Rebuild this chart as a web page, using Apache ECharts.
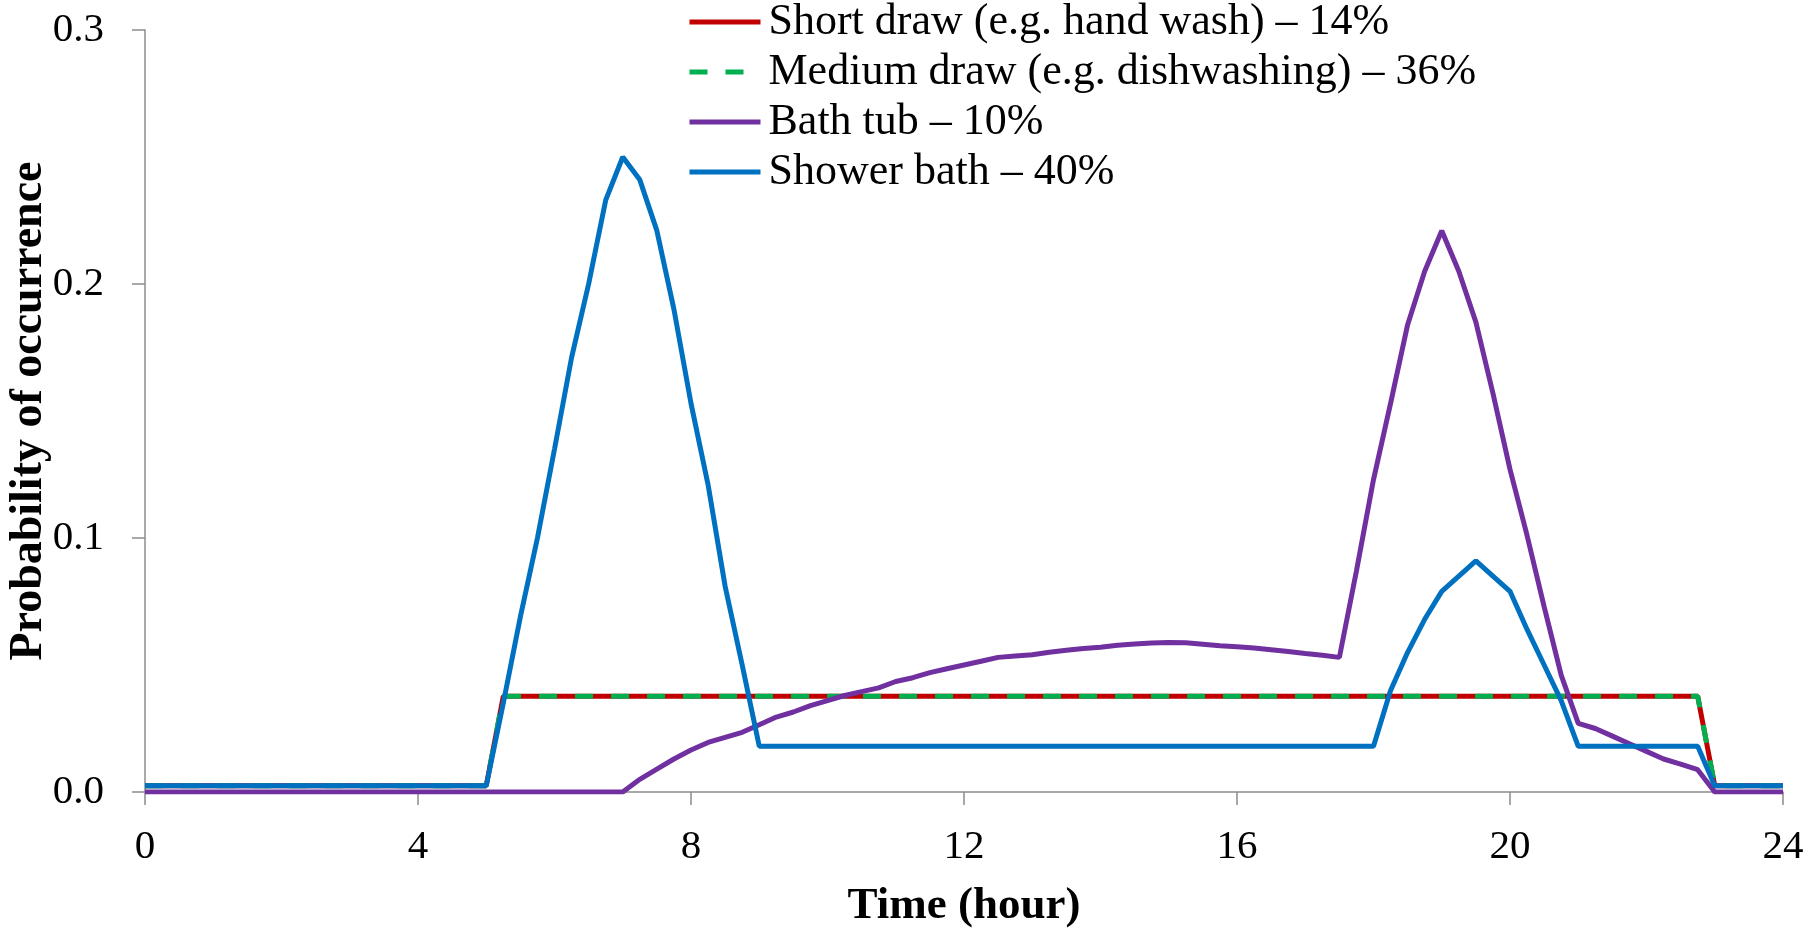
<!DOCTYPE html>
<html>
<head>
    <meta charset="utf-8">
    <title>draw-off profiles</title>
    <script src="https://cdn.jsdelivr.net/npm/echarts@6/dist/echarts.min.js"></script>
    <style>
        html, body { margin: 0; padding: 0; background: #fff; }
        #main { width: 1810px; height: 928px; }
    </style>
</head>
<body>
<div id="main"></div>
<script type="text/javascript">
    // [hour, probability], 15-min steps where the curve bends
    var seriesNames = [
        'Short draw (e.g. hand wash) – 14%',
        'Medium draw (e.g. dishwashing) – 36%',
        'Bath tub – 10%',
        'Shower bath – 40%'
    ];
    var xTicks = [0, 4, 8, 12, 16, 20, 24];
    var yTicks = [0.0, 0.1, 0.2, 0.3];

    var shortDraw = [[0, 0.0025], [5, 0.0025], [5.25, 0.0377], [22.75, 0.0377], [23, 0.0025], [24, 0.0025]];
    var mediumDraw = [[0, 0.0025], [5, 0.0025], [5.25, 0.0377], [22.75, 0.0377], [23, 0.0025], [24, 0.0025]];

    var bathTub = [
        [0, 0], [7, 0], [7.25, 0.005], [7.5, 0.009], [7.75, 0.013], [8, 0.0165], [8.25, 0.0195],
        [8.5, 0.0215], [8.75, 0.0235], [9, 0.0265], [9.25, 0.0295], [9.5, 0.0315], [9.75, 0.034],
        [10, 0.036], [10.25, 0.038], [10.5, 0.0395], [10.75, 0.041], [11, 0.0435], [11.25, 0.045],
        [11.5, 0.047], [11.75, 0.0485], [12, 0.05], [12.25, 0.0515], [12.5, 0.053], [12.75, 0.0535],
        [13, 0.054], [13.25, 0.055], [13.5, 0.0558], [13.75, 0.0565], [14, 0.057], [14.25, 0.0578],
        [14.5, 0.0583], [14.75, 0.0587], [15, 0.0589], [15.25, 0.0588], [15.5, 0.0582], [15.75, 0.0576],
        [16, 0.0572], [16.25, 0.0567], [16.5, 0.056], [16.75, 0.0553], [17, 0.0545], [17.25, 0.0538],
        [17.5, 0.053], [17.75, 0.087], [18, 0.123], [18.25, 0.153], [18.5, 0.184], [18.75, 0.205],
        [19, 0.221], [19.25, 0.205], [19.5, 0.185], [19.75, 0.157], [20, 0.127], [20.25, 0.101],
        [20.5, 0.073], [20.75, 0.046], [21, 0.027], [21.25, 0.025], [21.5, 0.022], [21.75, 0.019],
        [22, 0.016], [22.25, 0.013], [22.5, 0.011], [22.75, 0.0088], [23, 0], [24, 0]
    ];

    var showerBath = [
        [0, 0.0025], [5, 0.0025], [5.25, 0.035], [5.5, 0.069], [5.75, 0.1], [6, 0.135], [6.25, 0.171],
        [6.5, 0.2], [6.75, 0.233], [7, 0.25], [7.25, 0.241], [7.5, 0.221], [7.75, 0.19], [8, 0.153],
        [8.25, 0.121], [8.5, 0.081], [8.75, 0.05], [9, 0.018], [18, 0.018], [18.25, 0.04],
        [18.5, 0.055], [18.75, 0.068], [19, 0.079], [19.25, 0.085], [19.5, 0.091], [19.75, 0.085],
        [20, 0.079], [20.25, 0.064], [20.5, 0.05], [20.75, 0.036], [21, 0.018], [22.75, 0.018],
        [23, 0.0025], [24, 0.0025]
    ];

    var colors = ['#C00000', '#00B050', '#7030A0', '#0070C0'];
    var font = 'Liberation Serif';
    var axisGrey = '#8c8c8c';
    var lineW = 5;

    var myChart = echarts.init(document.getElementById('main'));

    function lineSeries(name, data, color, dash) {
        return {
            name: name,
            type: 'line',
            data: data,
            symbol: 'none',
            animation: false,
            lineStyle: { color: color, width: lineW, type: dash || 'solid', cap: 'butt' },
            itemStyle: { color: color }
        };
    }

    myChart.setOption({
        backgroundColor: '#fff',
        textStyle: { fontFamily: font },
        // fixed plot box, don't let the axis names squeeze it
        grid: { left: 145, right: 27, top: 30, bottom: 136, outerBoundsMode: 'none', containLabel: false },
        legend: {
            orient: 'vertical',
            left: 687,
            top: 0,
            padding: 0,
            itemGap: 6,
            itemWidth: 71,
            itemHeight: 14,
            data: seriesNames,
            // only the line in the key, no marker
            itemStyle: { color: 'rgba(0,0,0,0)', borderWidth: 0, opacity: 0 },
            lineStyle: { width: lineW },
            textStyle: { fontFamily: font, fontSize: 44, color: '#000', padding: [0, 0, 0, 3] }
        },
        xAxis: {
            type: 'value',
            min: xTicks[0],
            max: xTicks[xTicks.length - 1],
            interval: 4,
            name: 'Time (hour)',
            nameLocation: 'middle',
            nameGap: 92,
            nameTextStyle: { fontFamily: font, fontSize: 45, fontWeight: 'bold', color: '#000' },
            axisLine: { onZero: false, lineStyle: { color: axisGrey, width: 1.5 } },
            axisTick: { show: true, length: 13, lineStyle: { color: axisGrey, width: 1.5 } },
            axisLabel: { fontFamily: font, fontSize: 41, color: '#000', margin: 35 },
            splitLine: { show: false }
        },
        yAxis: {
            type: 'value',
            min: yTicks[0],
            max: yTicks[yTicks.length - 1],
            interval: 0.1,
            name: 'Probability of occurrence',
            nameLocation: 'middle',
            nameGap: 93,
            nameMoveOverlap: false,
            nameTextStyle: { fontFamily: font, fontSize: 46, fontWeight: 'bold', color: '#000' },
            axisLine: { show: true, onZero: false, lineStyle: { color: axisGrey, width: 1.5 } },
            axisTick: { show: true, length: 13, lineStyle: { color: axisGrey, width: 1.5 } },
            axisLabel: {
                fontFamily: font, fontSize: 41, color: '#000', margin: 41,
                formatter: function (v) { return v.toFixed(1); }
            },
            splitLine: { show: false }
        },
        series: [
            lineSeries(seriesNames[0], shortDraw, colors[0]),
            lineSeries(seriesNames[1], mediumDraw, colors[1], [18, 18]),
            lineSeries(seriesNames[2], bathTub, colors[2]),
            lineSeries(seriesNames[3], showerBath, colors[3])
        ]
    });
</script>
</body>
</html>
